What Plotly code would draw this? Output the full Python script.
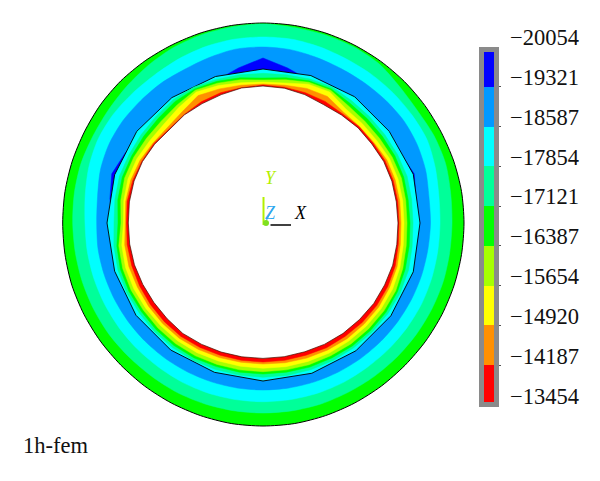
import numpy as np
import plotly.graph_objects as go

# Contour levels of the legend, top to bottom
levels = [-20054, -19321, -18587, -17854, -17121, -16387, -15654, -14920, -14187, -13454]
level_labels = ["−20054", "−19321", "−18587", "−17854", "−17121", "−16387", "−15654", "−14920", "−14187", "−13454"]
band_colors = ["#0000FF", "#0099FF", "#00FFFF", "#00FF99", "#00FF00", "#A6FF00", "#FFFF00", "#FF9000", "#FF0000"]

# Read-off radii of band boundaries (section units) at every 9 degrees
angles = list(range(0, 360, 9))
r_outer = [201,201,200.5,200,200,200,200,200,200,200,200,200,200,200,200.5,201,201,200.5,200.5,200.5,200.3,200.5,201,201,201,201,201.5,202,202.5,203,203,203,202.5,202,201.5,201,201,201,201,201]
r_green = [189,190,192,192,191,193,197,198,198,198,199,198.5,198,197,195,193,191.5,191,191.5,191,190.3,190,190,190,190,189.5,189.5,190,190,190,190,190,190,189.5,189.5,189.5,189.5,189.5,189.5,189]
r_spring = [177,178,181,184,184,184,184,184,185,186,186,186,185.5,184.5,183.5,184,185,185,183,180,178,178,178,178,178,178,178,178.5,178.7,178.7,178.7,178.7,178.7,178.5,178,178,178,178,177.5,177]
r_cyan = [167.5,168,171,173,174,173.5,173,173,174,175.5,176,176,174,172.5,173,173,173.5,173,171,167.5,166.3,167,167,167,167,167,167,167,167,167,167,167,167,167,167,167,167,167,167,167]
r_azure = [156,155,159,154,150,150,150,150,150,157,165,157,150,150,150,150,150,154.5,159,155,150,150,150,150,150,150,150,150,150,150,150,150,150,150,150,150,150,150,150,150]

interface_angles = list(range(0, 360, 18))
r_interface = [157,158,156,156,155,154,154,155,156,156,156,156,157,157,157,158,158,158,158,158]

r_in_spring = [150,150.5,151.5,151,150.5,150.5,151,152.5,151.5,150,149.7,150,151,152.5,152.5,151,150.5,150.5,151,150,149,151,152.5,153,153,153.5,154,154,154,154,154.3,154.3,154.3,154.3,154.3,154.3,154.3,154,153,151]
r_in_green = [147,147,148,148,147.5,147.5,148,150.5,149.5,147,145,147,149,150.5,150,148,147.5,147.5,148,147,145,148,150,150.5,150.5,151,151.5,151.5,151,151,151,151,151.5,151.5,152,152,152,151,149.5,148]
r_in_lime = [144,144.5,145.5,145,144,144,145,149,148,145,143,145,147,149,146,144,144,145,145.5,144,142,146,147.5,148,148,148.5,149,149,148.7,148.7,148.7,148.7,149,149,149.5,149.5,149.5,149,147,145]
r_in_yellow = [141,141.5,142,142,140.5,140.5,141,147,146,142,141,142,144.5,147,143,140,140,141.5,142,141,139.5,143,144.5,145,145,145,145.5,145.5,145,145,145.3,145.5,145.5,146,146,146,146,145.5,144,142]
r_in_orange = [138,138.5,139,139,137,136.5,137,142,141.5,139.5,139,139.5,141,143,137.5,135,136,138,139,139,137.5,140,141,141,141.5,142,142.5,142,141.5,141,141,141.5,142,142.5,143,143,143,142,141,139]
r_in_red = [136,136.5,137,137,136,136,135,136.5,137,137.5,138,137,137,136,134,133,135,136,137,137.5,136.5,137.5,138,138.5,139,139.5,140,139.5,139,139,139,139,139,140,140,140.5,140.5,140,139,137]
r_inner = [135,135,135.5,135.5,134.5,134.5,133.5,133,135,136.5,137,136.7,135,134,133.7,132.5,134,135.3,135.6,135.3,134.7,135,135.2,135,135,135.5,136.5,136,135.7,135.5,135.4,135.4,135.4,136,136.4,136.5,136.9,136.5,136.4,135.5]


def ring_xy(radii, degrees):
    t = np.deg2rad(list(degrees) + [degrees[0]])
    r = np.array(list(radii) + [radii[0]], dtype=float)
    return r * np.cos(t), r * np.sin(t)


fig = go.Figure()


def add_disc(radii, degrees, color, line_color=None, line_width=0, smooth=False):
    x, y = ring_xy(radii, degrees)
    line = dict(color=line_color or color, width=line_width if line_color else 0.5)
    if smooth:
        line.update(shape="spline", smoothing=0.8)
    fig.add_trace(go.Scatter(x=x, y=y, mode="lines", fill="toself", fillcolor=color, line=line,
                             hoverinfo="skip", showlegend=False))


add_disc(r_outer, angles, band_colors[4], "#000000", 1, smooth=True)
add_disc(r_green, angles, band_colors[3], smooth=True)
add_disc(r_spring, angles, band_colors[2], smooth=True)
add_disc(r_cyan, angles, band_colors[1], smooth=True)
add_disc(r_azure, angles, band_colors[0])
add_disc(r_interface, interface_angles, band_colors[2], "#000000", 0.9)
add_disc(r_in_spring, angles, band_colors[3])
add_disc(r_in_green, angles, band_colors[4])
add_disc(r_in_lime, angles, band_colors[5])
add_disc(r_in_yellow, angles, band_colors[6])
add_disc(r_in_orange, angles, band_colors[7])
add_disc(r_in_red, angles, band_colors[8])
add_disc(r_inner, angles, "#FFFFFF", "#401000", 0.7)

# Legend strip
n = len(band_colors)
scale = []
for i, c in enumerate(band_colors):
    scale += [[i / n, c], [(i + 1) / n, c]]
# Invisible trace carrying the legend labels' axis
fig.add_trace(go.Scatter(x=[0], y=[levels[0]], xaxis="x3", yaxis="y3", mode="markers",
                         marker=dict(opacity=0), hoverinfo="skip", showlegend=False))
fig.add_trace(go.Heatmap(
    x=[0, 1], y=levels, z=[[i] for i in range(n)], zmin=0, zmax=n,
    xaxis="x2", yaxis="y2", colorscale=scale, showscale=False, hoverinfo="skip"))

W, H = 600, 481
CX, CY = 263, 223  # centre of the section in pixels
axis_off = dict(visible=False, showgrid=False, zeroline=False)
serif = "Liberation Serif"

triad_shapes = [
    dict(type="line", xref="x", yref="y", x0=7.5, y0=-2, x1=28, y1=-2, line=dict(color="black", width=1.5)),
    dict(type="line", xref="x", yref="y", x0=0.5, y0=-2, x1=0.5, y1=26, line=dict(color="#B4F000", width=2)),
    dict(type="line", xref="x", yref="y", x0=2, y0=0, x1=10, y1=15, line=dict(color="#30A8F0", width=1)),
    dict(type="circle", xref="x", yref="y", x0=0, y0=-3, x1=6, y1=3, fillcolor="#80E020", line=dict(width=0)),
]
triad_text = [
    dict(x=8, y=45, text="Y", font=dict(color="#B4F000")),
    dict(x=7, y=10, text="Z", font=dict(color="#30A8F0")),
    dict(x=37, y=10, text="X", font=dict(color="#000000")),
]
annotations = [dict(xref="x", yref="y", showarrow=False, x=t["x"], y=t["y"], text="<i>" + t["text"] + "</i>",
                    font=dict(family=serif, size=18, color=t["font"]["color"])) for t in triad_text]
annotations.append(dict(xref="paper", yref="paper", x=21 / W, y=1 - 445 / H, xanchor="left", yanchor="middle",
                        showarrow=False, text="1h-fem", font=dict(family=serif, size=22.5, color="#111111")))

fig.update_layout(
    width=W, height=H, autosize=False, margin=dict(l=0, r=0, t=0, b=0, autoexpand=False),
    paper_bgcolor="white", plot_bgcolor="rgba(0,0,0,0)", showlegend=False,
    xaxis=dict(domain=[0, 1], range=[-CX, W - CX], **axis_off),
    yaxis=dict(domain=[0, 1], range=[CY - H, CY], **axis_off),
    xaxis2=dict(domain=[484 / W, 494 / W], range=[0, 1], anchor="y2", showgrid=False, zeroline=False,
                showticklabels=False, ticks="", showline=True, mirror=True, linewidth=5, linecolor="#8A8A8A"),
    xaxis3=dict(domain=[510 / W, 580 / W], range=[-1, 1], anchor="y3", **axis_off),
    # strip spans pixels 52..402; levels run 47..405 underneath the grey frame
    yaxis2=dict(domain=[1 - 402 / H, 1 - 52 / H], range=[-13509, -19962], anchor="x2", side="right",
                showgrid=False, zeroline=False, tickmode="array", tickvals=levels[1:-1], ticktext=[""] * 8,
                ticks="outside", ticklen=1.5, tickwidth=1, tickcolor="#555555",
                showline=True, mirror=True, linewidth=5, linecolor="#8A8A8A"),
    # labels sit on their own evenly spaced axis, offset from the band edges as in the reference
    yaxis3=dict(domain=[1 - 410 / H, 1 - 30 / H], range=[-13198, -20183], anchor="free",
                position=509 / W, side="right", showgrid=False, zeroline=False, showline=False, ticks="",
                tickmode="array", tickvals=levels, ticktext=level_labels,
                tickfont=dict(family=serif, size=22.5, color="#111111")),
    shapes=triad_shapes, annotations=annotations,
)

fig.write_html("out.html", config=dict(displayModeBar=False),
               post_script="document.body.style.margin='0';")
